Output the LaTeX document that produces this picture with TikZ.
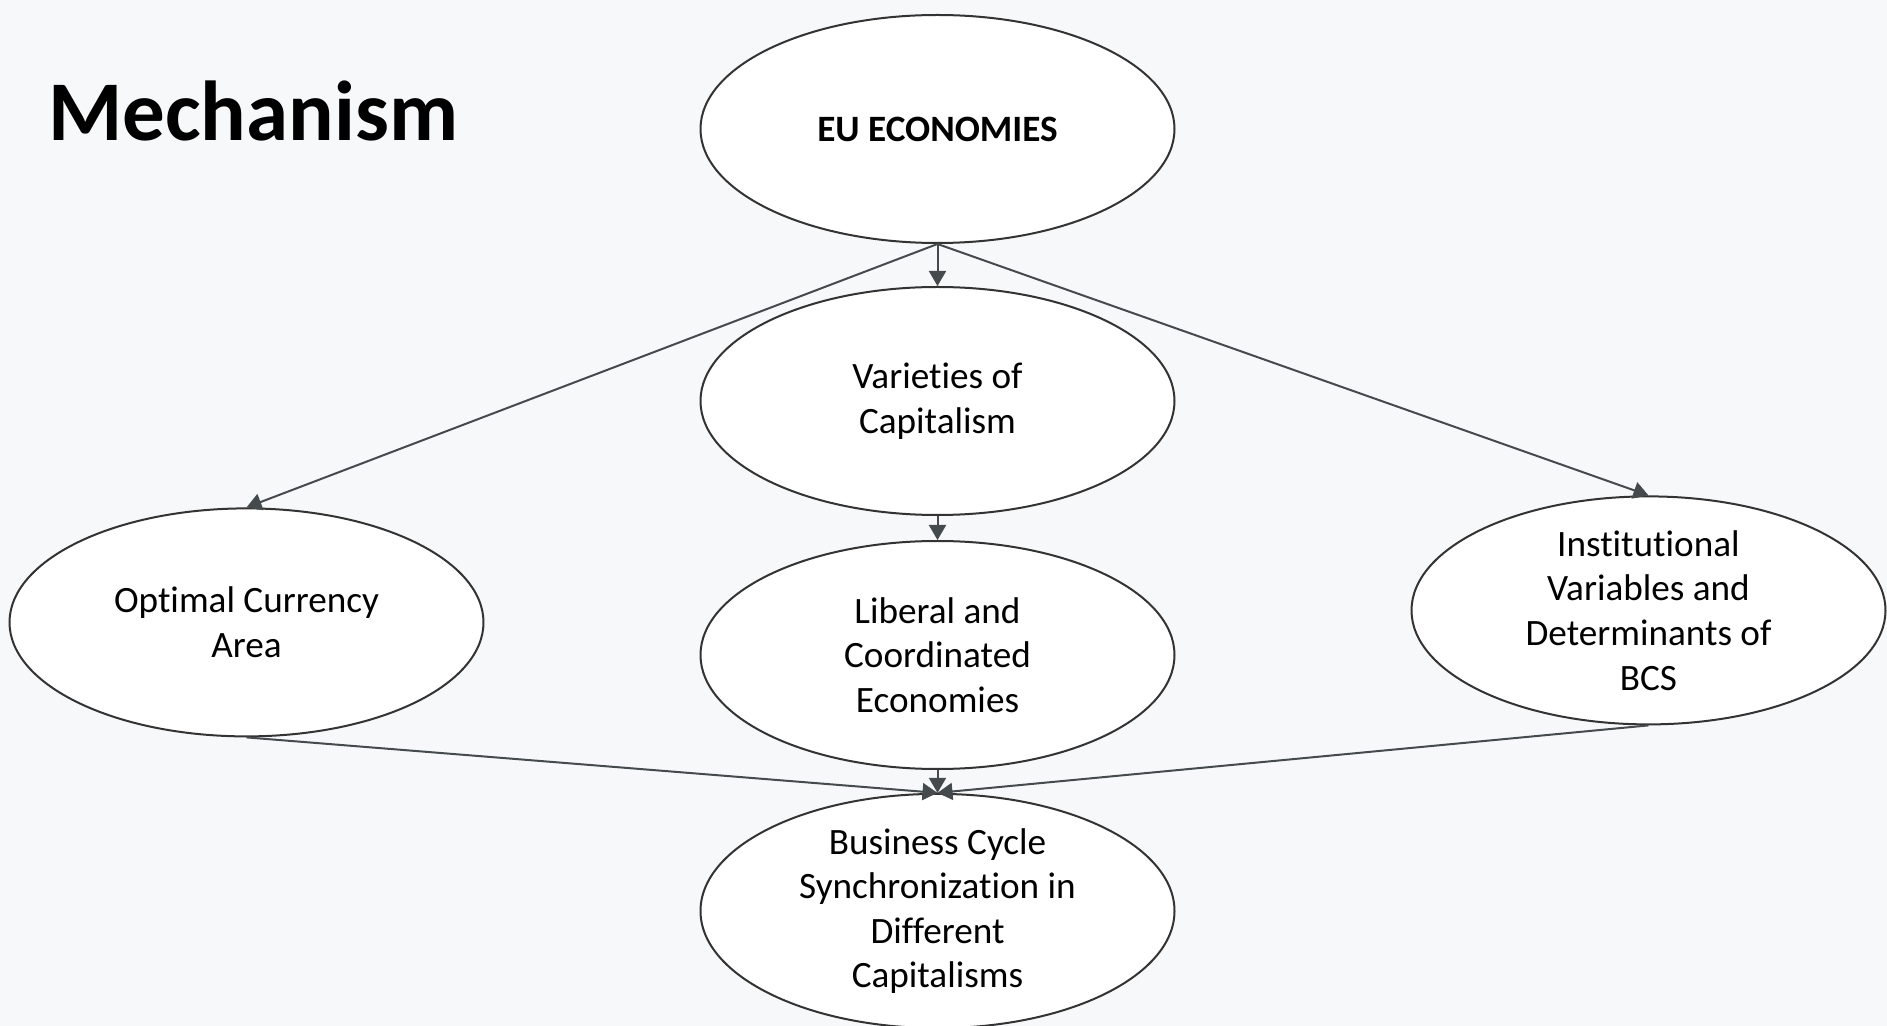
\documentclass[tikz,border=0pt]{standalone}
\usepackage{fontspec}
\setmainfont[Ligatures={NoCommon}]{Carlito}
\usetikzlibrary{shapes.geometric, positioning, arrows.meta}
\definecolor{bgpage}{HTML}{F7F8FA}
\definecolor{edgegray}{HTML}{454A4D}
\definecolor{rimgray}{HTML}{333333}

\begin{document}
\begin{tikzpicture}[x=0.5pt, y=-0.5pt, node distance=130pt, on grid,
    blob/.style={ellipse, draw=rimgray, line width=1pt, fill=white,
      minimum width=237pt, minimum height=114pt, inner sep=0pt,
      align=center, font=\fontsize{18.6}{22.3}\selectfont},
    link/.style={-{Triangle[length=7.5pt, width=8.5pt]}, draw=edgegray,
      line width=1pt}]
      \fill[bgpage] (0,0) rectangle (1887,1026);
      \useasboundingbox (0,0) rectangle (1887,1026);
      \node[anchor=base west, font=\fontsize{42.5}{46}\selectfont\bfseries, inner sep=0pt] (title) at (48,141) {Mechanism};
      \node[blob, font=\fontsize{18.6}{22.3}\selectfont\bfseries] (eu) at (937.5,129) {EU ECONOMIES};
      \node[blob, below=136pt of eu] (voc) {Varieties of\\Capitalism};
      \node[blob, below=127pt of voc] (lce) {Liberal and\\Coordinated\\Economies};
      \node[blob, below=128pt of lce] (bcs) {Business Cycle\\Synchronization in\\Different\\Capitalisms};
      \node[blob, left=345.5pt of lce, yshift=16.3pt] (oca) {Optimal Currency\\Area};
      \node[blob, right=355.5pt of lce, yshift=22.3pt] (inst) {Institutional\\Variables and\\Determinants of\\BCS};
      \path[link] (eu.south) -- (voc.north);
      \path[link] (eu.south) -- (oca.north);
      \path[link] (eu.south) -- (inst.north);
      \path[link] (voc.south) -- (lce.north);
      \path[link] (lce.south) -- (bcs.north);
      \path[link] (oca.south) -- (bcs.north);
      \path[link] (inst.south) -- (bcs.north);
    \end{tikzpicture}
\end{document}
